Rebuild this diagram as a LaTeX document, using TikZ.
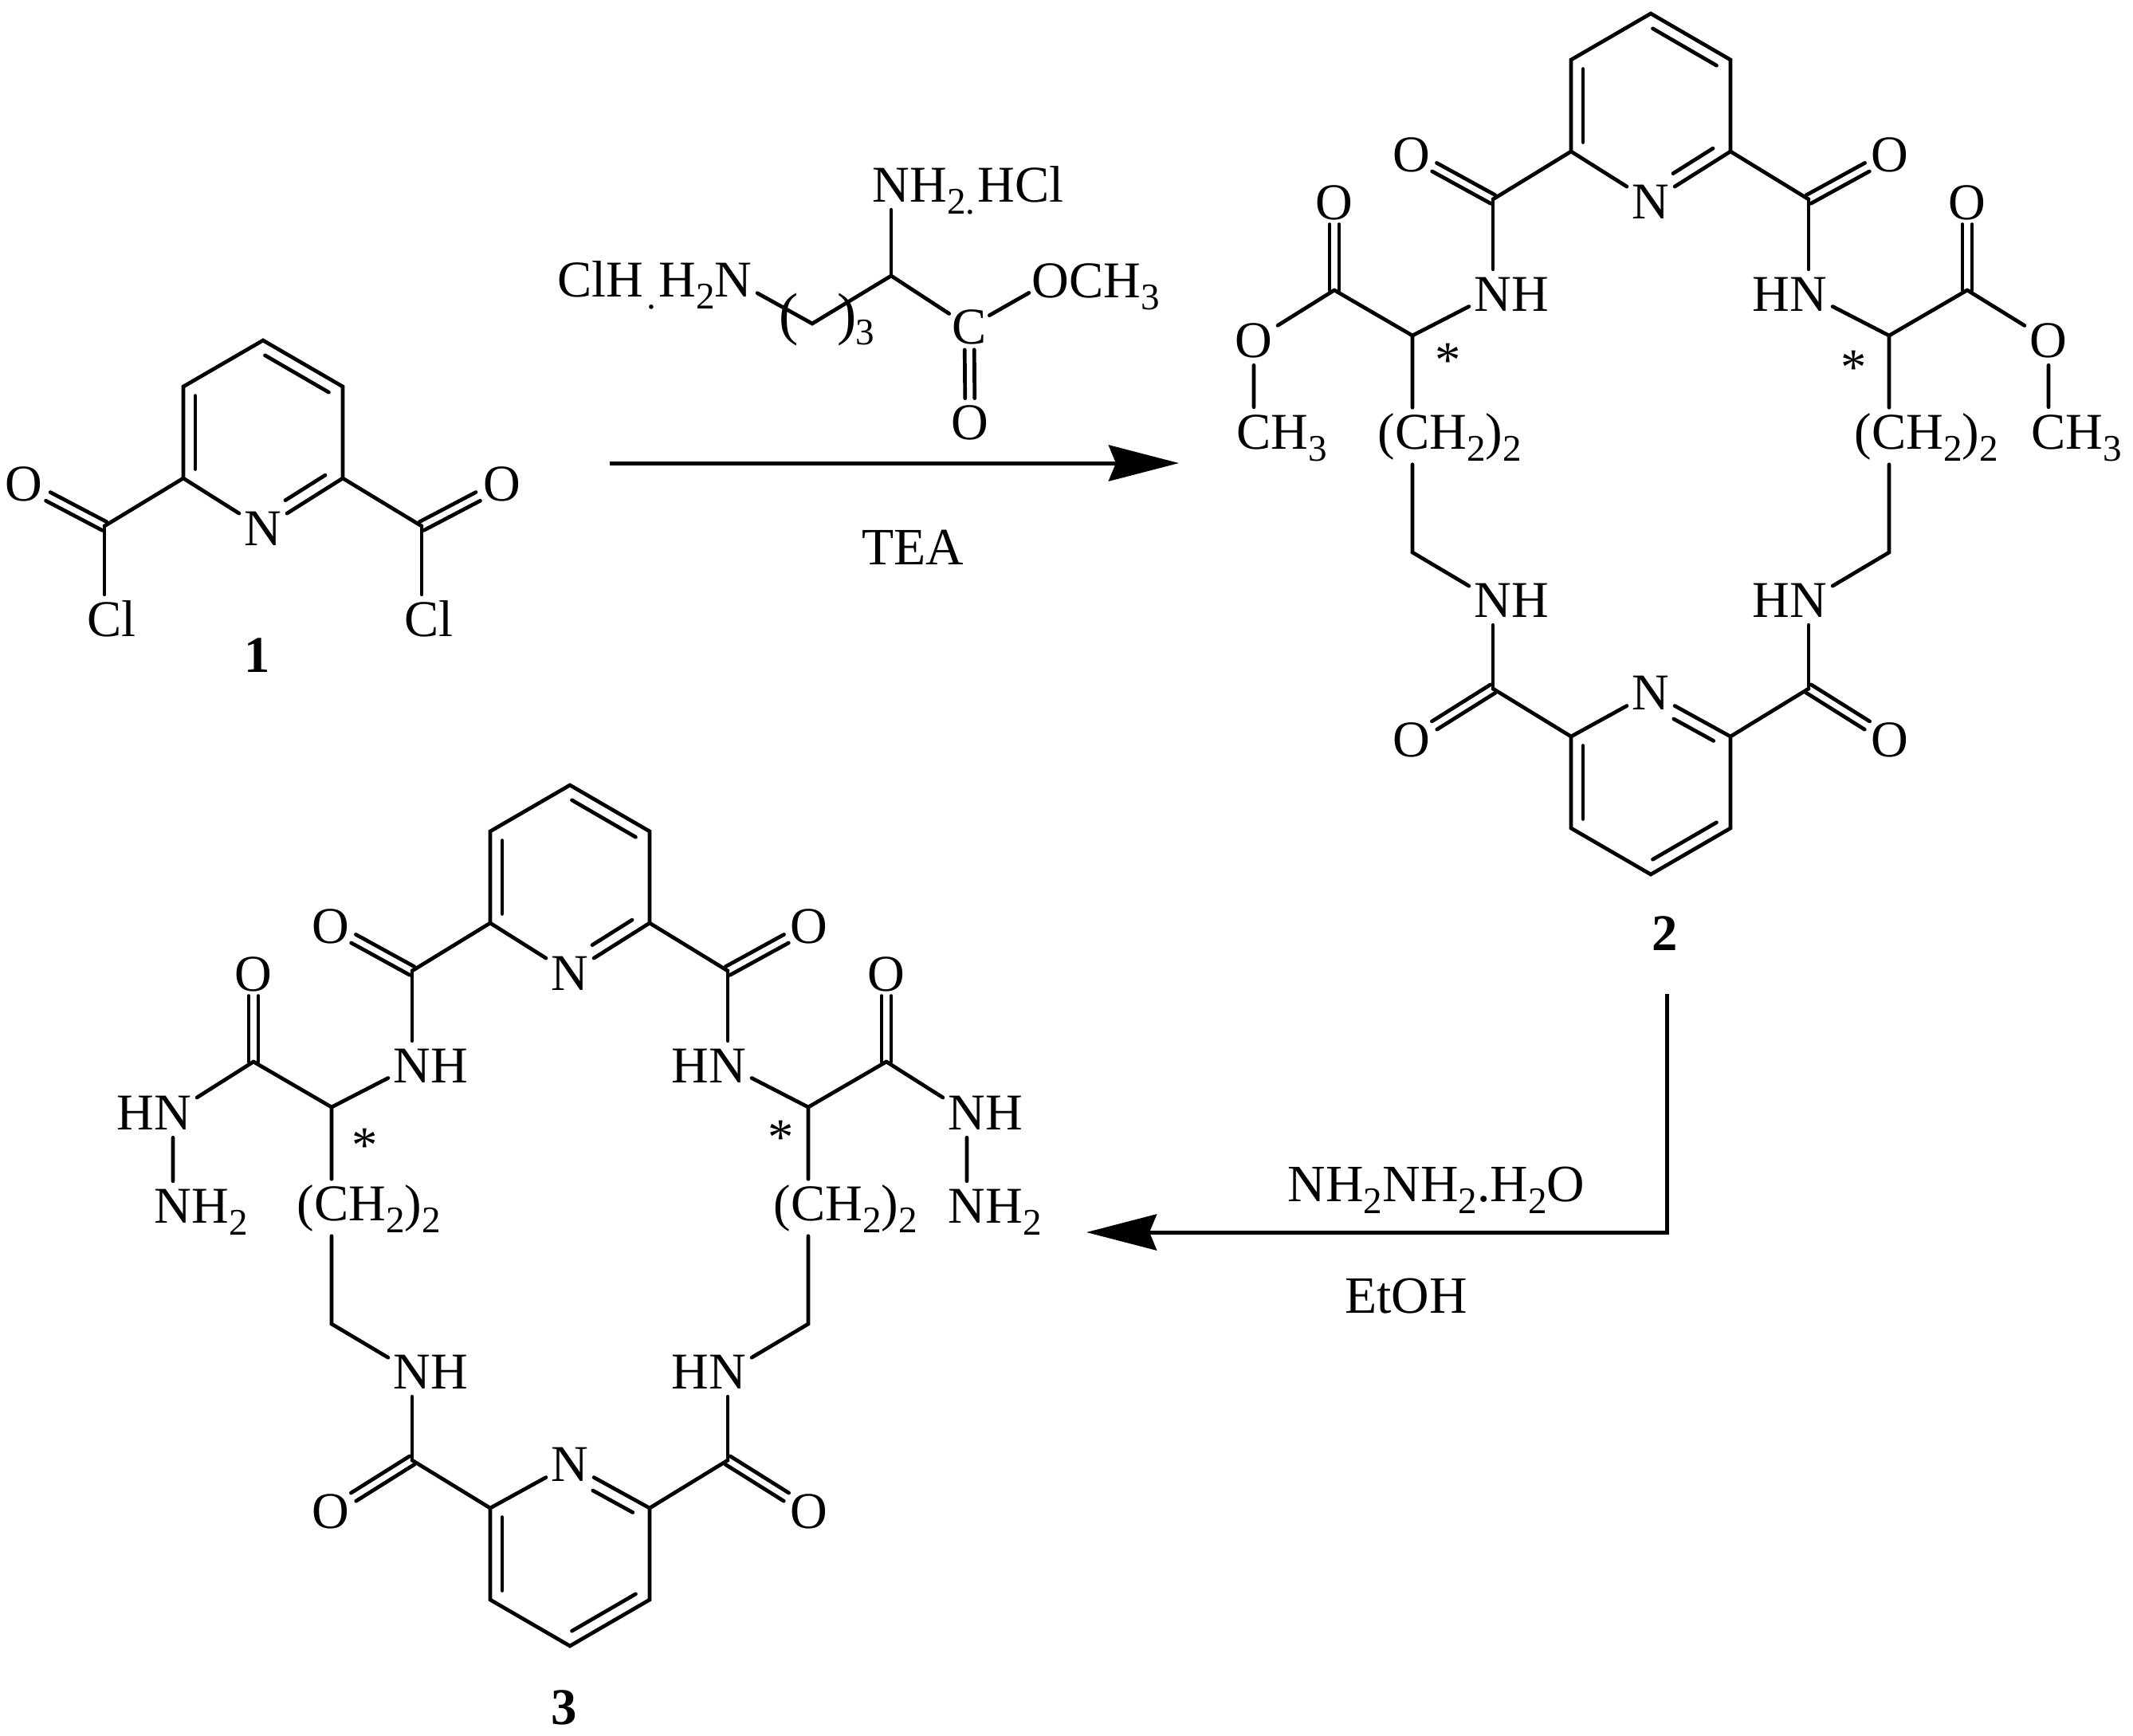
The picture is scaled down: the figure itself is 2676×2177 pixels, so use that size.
\documentclass[tikz,border=0pt]{standalone}
\usepackage{fontspec}
\setmainfont{Liberation Serif}
\usetikzlibrary{
    arrows.meta,           % Arrow tips
    calc                   % Offset lines of the double bonds
}

\newcommand{\subnum}[1]{\raisebox{-0.15cm}{\fontsize{13.4pt}{15pt}\selectfont #1}}
\newcommand{\innerbond}[5]{\draw[bond] ($(#1)!#3!(#2)!0.15cm!#5:(#2)$) -- ($(#1)!#4!(#2)!0.15cm!#5:(#2)$);}
\newcommand{\dblbond}[4]{%
    \draw[bond] ($(#1)!#3!(#2)!0.06cm!90:(#2)$) -- ($(#1)!#4!(#2)!0.06cm!90:(#2)$);
    \draw[bond] ($(#1)!#3!(#2)!0.06cm!-90:(#2)$) -- ($(#1)!#4!(#2)!0.06cm!-90:(#2)$);
}
% name, up or down (-1/1), side of the inner lines
\newcommand{\pyridine}[3]{%
    \node[atom] (#1n) at (0,#2*308+4) {N};
    \coordinate (#1ll) at (-100,#2*367);
    \coordinate (#1ul) at (-100,#2*482);
    \coordinate (#1tp) at (0,#2*540);
    \coordinate (#1ur) at (100,#2*482);
    \coordinate (#1lr) at (100,#2*367);
    \draw[bond] (#1n) -- (#1ll) -- (#1ul) -- (#1tp) -- (#1ur) -- (#1lr) -- (#1n);
    \innerbond{#1ll}{#1ul}{.1}{.9}{#3}
    \innerbond{#1tp}{#1ur}{.1}{.9}{#3}
    \innerbond{#1lr}{#1n}{.14}{.64}{#3}
}
% name, centre x, centre y
\newcommand{\macrocycle}[3]{%
    \begin{scope}[shift={(#2,#3)}]
        \foreach \sy/\ud/\ang in {-1/u/-90,1/d/90}{
            \pyridine{#1\ud}{\sy}{\ang}
            \foreach \sx/\lr/\nh in {-1/l/N\rlap{H},1/r/\llap{H}N}{
                \coordinate (#1\ud\lr c) at (\sx*198,\sy*307);
                \node[atom] (#1\ud\lr o) at (\sx*300,\sy*367+4) {O};
                \node[atom] (#1\ud\lr nh) at (\sx*198,\sy*192+4) {\nh};
                \draw[bond] (#1\ud\lr c) -- (#1\ud\lr nh);
                \dblbond{#1\ud\lr c}{#1\ud\lr o}{0}{.72}
            }
            \draw[bond] (#1\ud ll) -- (#1\ud lc);
            \draw[bond] (#1\ud lr) -- (#1\ud rc);
        }
        \foreach \sx/\lr in {-1/l,1/r}{
            \coordinate (#1\lr a) at (\sx*299,-136);
            \coordinate (#1\lr m) at (\sx*299,136);
            \coordinate (#1\lr e) at (\sx*397,-193);
            \node[atom] (#1\lr eo) at (\sx*397,-303) {O};
            \node[chain] (#1\lr ch) at (\sx*299,-10) {\llap{(}C\rlap{H\subnum{2})\subnum{2}}};
            \draw[bond] (#1u\lr nh) -- (#1\lr a) -- (#1\lr e);
            \draw[bond] (#1\lr a) -- (#1\lr ch) -- (#1\lr m) -- (#1d\lr nh);
            \dblbond{#1\lr e}{#1\lr eo}{0}{.75}
        }
    \end{scope}
}

\tikzset{
    bond/.style={line width=0.047cm,line cap=round},
    atom/.style={inner xsep=0.06cm,inner ysep=0.09cm,text height=0.43cm,text depth=0pt,
        font=\fontsize{18.4pt}{20pt}\selectfont},
    chain/.style={atom,text depth=0.1cm,inner ysep=0.085cm},
    bracket/.style={inner sep=0pt,font=\fontsize{20.7pt}{22pt}\selectfont},
    reagent/.style={inner sep=0pt,text height=0.44cm,text depth=0pt,font=\fontsize{18.7pt}{20pt}\selectfont},
    number/.style={inner sep=0pt,font=\fontsize{18.4pt}{20pt}\selectfont\bfseries},
    stereo/.style={inner sep=0pt,font=\fontsize{18.4pt}{20pt}\selectfont},
    flow/.style={line width=0.05cm,-{Stealth[length=0.88cm,width=0.45cm,inset=0.09cm]}}
}

\begin{document}
\begin{tikzpicture}[x=0.01cm,y=-0.01cm]
    \useasboundingbox (0,0) rectangle (2676,2177);

    % compound 1
    \begin{scope}[shift={(330,967)}]
        \pyridine{a}{-1}{-90}
        \foreach \sx/\lr in {-1/l,1/r}{
            \coordinate (a\lr c) at (\sx*199,-307);
            \node[atom] (a\lr o) at (\sx*300,-360) {O};
            \node[atom] (a\lr cl) at (\sx*199,-190) {C\rlap{l}};
            \draw[bond] (a\lr c) -- (a\lr cl);
            \dblbond{a\lr c}{a\lr o}{0}{.7}
        }
        \draw[bond] (all) -- (alc);
        \draw[bond] (alr) -- (arc);
    \end{scope}
    \node[number] (num1) at (323,822) {1};

    % diamine reagent
    \node[atom] (rnh) at (1118,232) {N\rlap{H\subnum{2}\subnum{.}\hspace{0.03cm}HCl}};
    \coordinate (ra) at (1118,346);
    \coordinate (rm) at (1019,406);
    \node[atom] (rn) at (920,351) {\llap{ClH\hspace{0.04cm}\subnum{.}\hspace{0.03cm}H\subnum{2}}N};
    \node[atom,inner sep=0.03cm] (rc) at (1216,410) {C};
    \node[atom,inner xsep=0.03cm] (ro) at (1318,352) {O\rlap{CH\subnum{3}}};
    \node[atom] (rco) at (1217,530) {O};
    \node[bracket] (rpl) at (990,401) {(};
    \node[bracket] (rpr) at (1063,401) {)};
    \node[inner sep=0pt,font=\fontsize{13.4pt}{15pt}\selectfont] (rthree) at (1085,417) {3};
    \draw[bond] (rnh) -- (ra);
    \draw[bond] (rn) -- (rm) -- (ra) -- (rc) -- (ro);
    \dblbond{rc}{rco}{.24}{.747}

    % first arrow
    \coordinate (fs) at (765,581);
    \coordinate (fe) at (1479,581);
    \draw[flow] (fs) -- (fe);
    \node[reagent] (tea) at (1145,686) {TEA};

    % compound 2
    \macrocycle{b}{2071}{557}
    \node[atom] (blo) at (1573,427) {O};
    \node[atom] (brme) at (2570,427) {O};
    \node[atom] (blch) at (1573,542) {C\rlap{H\subnum{3}}};
    \node[atom] (brch) at (2570,542) {C\rlap{H\subnum{3}}};
    \draw[bond] (ble) -- (blo) -- (blch);
    \draw[bond] (bre) -- (brme) -- (brch);
    \node[stereo] (bsl) at (1817,452) {*};
    \node[stereo] (bsr) at (2326,461) {*};
    \node[number] (num2) at (2089,1171) {2};

    % second arrow
    \coordinate (ss) at (2091,1247);
    \coordinate (sb) at (2091,1546);
    \coordinate (se) at (1363,1546);
    \draw[flow] (ss) -- (sb) -- (se);
    \node[reagent] (hyd) at (1802,1485) {NH\subnum{2}NH\subnum{2}.H\subnum{2}O};
    \node[reagent] (etoh) at (1764,1625) {EtOH};

    % compound 3
    \macrocycle{c}{715}{1525}
    \node[atom] (clhn) at (217,1396) {\llap{H}N};
    \node[atom] (crhn) at (1213,1396) {N\rlap{H}};
    \node[atom] (clnh) at (217,1513) {N\rlap{H\subnum{2}}};
    \node[atom] (crnh) at (1213,1513) {N\rlap{H\subnum{2}}};
    \draw[bond] (cle) -- (clhn) -- (clnh);
    \draw[bond] (cre) -- (crhn) -- (crnh);
    \node[stereo] (csl) at (458,1437) {*};
    \node[stereo] (csr) at (980,1427) {*};
    \node[number] (num3) at (708,2142) {3};
\end{tikzpicture}
\end{document}
